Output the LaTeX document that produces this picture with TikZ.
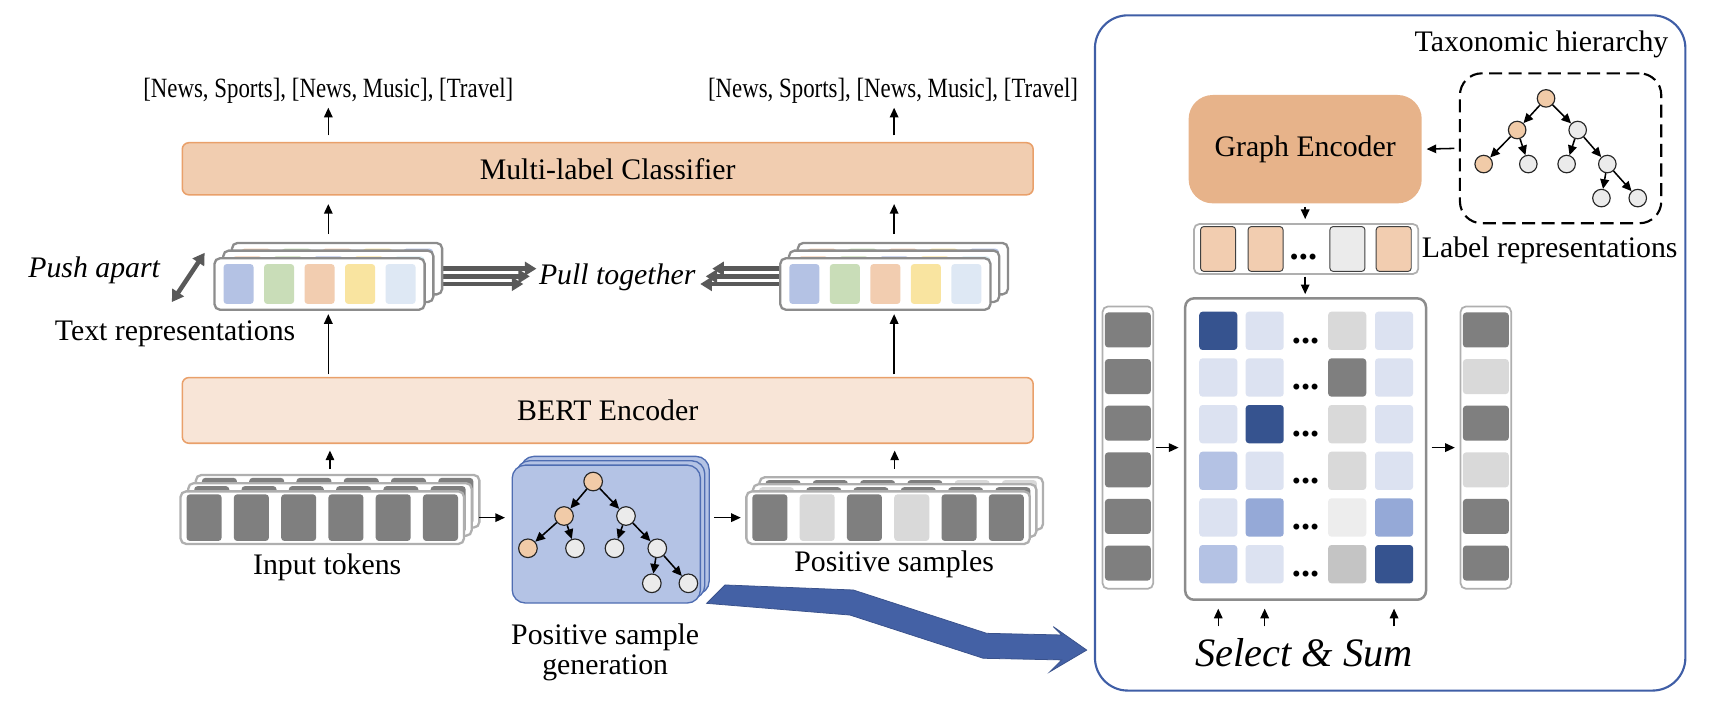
\documentclass[tikz,border=0pt]{standalone}
\usepackage{fontspec}
\setmainfont{Liberation Serif}
\newfontfamily\condfont[FakeStretch=0.82]{Liberation Serif}
\usetikzlibrary{arrows.meta,calc,backgrounds}

\newcommand\pu{0.02cm}
\newcommand\figtxt{\fontsize{15.5}{16}\selectfont}
\newcommand\outtxt{\condfont\fontsize{14.5}{16}\selectfont}
\newcommand\selecttxt{\fontsize{21}{24}\selectfont\itshape}
\newcommand\dotstxt{\fontsize{19}{20}\selectfont\bfseries}

\definecolor{clsfill}{HTML}{F1CDB0}
\definecolor{bertfill}{HTML}{F8E5D7}
\definecolor{orangeb}{HTML}{E9A06A}
\definecolor{gefill}{HTML}{E7B38A}
\definecolor{tpeach}{HTML}{F1CBA8}
\definecolor{tgray}{HTML}{EBEBEB}
\definecolor{psgfill}{HTML}{B4C3E5}
\definecolor{psgdraw}{HTML}{4F6DB2}
\definecolor{repblue}{HTML}{B4C2E4}
\definecolor{repgreen}{HTML}{C9DDB8}
\definecolor{reppeach}{HTML}{F2CDB0}
\definecolor{repyellow}{HTML}{F9E4A0}
\definecolor{replblue}{HTML}{DEE8F4}
\definecolor{repcyan}{HTML}{DCEFF4}
\definecolor{tokdark}{HTML}{7F7F7F}
\definecolor{toklight}{HTML}{D9D9D9}
\definecolor{boxgray}{HTML}{8C8C8C}
\definecolor{lightbox}{HTML}{AFAFAF}
\definecolor{cdark}{HTML}{36538F}
\definecolor{clight}{HTML}{DCE2F1}
\definecolor{cmid}{HTML}{B4C2E4}
\definecolor{cmidb}{HTML}{95A9D7}
\definecolor{cgra}{HTML}{D9D9D9}
\definecolor{cgrb}{HTML}{7F7F7F}
\definecolor{cgrc}{HTML}{EDEDED}
\definecolor{cgrd}{HTML}{C4C4C4}
\definecolor{panelblue}{HTML}{3F5EA6}
\definecolor{bigblue}{HTML}{4461A5}
\definecolor{fatgray}{HTML}{595959}

\tikzset{
  lbl/.style={font=\figtxt, inner sep=0pt},
  arr/.style={-{Triangle[length=5pt,width=4.4pt]}, line width=0.8pt},
  fatarr/.style={-{Triangle[length=6pt,width=7pt]}, line width=2.4pt, draw=fatgray},
  bar/.style={draw=orangeb, line width=0.8pt, rounded corners=6*\pu, minimum width=777.5*\pu, font=\figtxt},
  stackbox/.style={draw=#1, line width=1.2pt, fill=white, rounded corners=5*\pu, inner sep=0pt},
  blk/.style={inner sep=0pt, rounded corners=3*\pu, fill=#1},
  tnode/.style={circle, draw=black!85, line width=0.6pt, minimum size=17*\pu, inner sep=0pt, fill=#1},
  tarr/.style={-{Triangle[length=5pt,width=4.6pt]}, line width=0.8pt},
}

\begin{document}
\begin{tikzpicture}[x=\pu, y=-\pu]
\useasboundingbox (0,0) rectangle (1568,660);

% outputs and the two bars
\node[lbl, font=\outtxt] (outL) at (300,83) {[News, Sports], [News, Music], [Travel]};
\node[lbl, font=\outtxt] (outR) at (816,83) {[News, Sports], [News, Music], [Travel]};
\node[bar, fill=clsfill, minimum height=47.6*\pu] (cls) at (555.3,154.2) {Multi-label Classifier};
\node[bar, fill=bertfill, minimum height=60*\pu] (bert) at (555.3,375) {BERT Encoder};

% text representations
\foreach \s/\cx in {l/292, r/809} {
  \foreach \k/\ca/\cb/\cc/\cd/\ce in {2/reppeach/repgreen/reppeach/repyellow/repblue,
      1/reppeach/repgreen/repblue/repyellow/repcyan, 0/repblue/repgreen/reppeach/repyellow/replblue} {
    \node[stackbox=boxgray, minimum width=192*\pu, minimum height=47*\pu] (t\s\k) at ({\cx+8*\k},{259.5-7*\k}) {};
    \foreach \dx/\col in {-74/\ca, -37/\cb, 0/\cc, 37/\cd, 74/\ce}
      \node[blk=\col, minimum width=27.5*\pu, minimum height=36.5*\pu] at ($(t\s\k)+(\dx,0)$) {};
  }
}
\node[lbl, font=\figtxt\itshape] (push) at (86,247) {Push apart};
\node[lbl, font=\figtxt\itshape] (pull) at (564,253) {Pull together};
\node[lbl] (trep) at (160,305) {Text representations};
\coordinate (pa1) at (157,276);
\coordinate (pa2) at (187,231);
\draw[fatarr, {Triangle[length=6pt,width=7pt]}-{Triangle[length=6pt,width=7pt]}] (pa1) -- (pa2);
\begin{scope}[on background layer]
  \foreach \k/\e in {2/2, 1/8, 0/14}
    \draw[fatarr, shorten >=\e*\pu] (tl\k.center) -- (tl\k.center -| pull.west);
  \foreach \k/\e in {2/15, 1/9, 0/4}
    \draw[fatarr, shorten >=\e*\pu] (tr\k.center) -- (tr\k.center -| pull.east);
\end{scope}

% input tokens
\foreach \k in {2,1,0} {
  \node[stackbox=lightbox, minimum width=259*\pu, minimum height=48*\pu] (in\k) at ({294.5+7*\k},{473-7.5*\k}) {};
  \foreach \dx in {-108,-64.8,-21.6,21.6,64.8,108}
    \node[blk=tokdark, minimum width=32*\pu, minimum height=42.6*\pu] at ($(in\k)+(\dx,0)$) {};
}
\node[lbl] (intok) at (299,518) {Input tokens};

% positive samples
\foreach \k/\ca/\cb/\cc/\cd/\ce/\cf in {2/tokdark/tokdark/tokdark/tokdark/toklight/toklight,
    1/toklight/tokdark/tokdark/tokdark/tokdark/tokdark, 0/tokdark/toklight/tokdark/toklight/tokdark/tokdark} {
  \node[stackbox=lightbox, minimum width=259*\pu, minimum height=48*\pu] (pos\k) at ({811.5+6*\k},{473-6.5*\k}) {};
  \foreach \dx/\col in {-108/\ca, -64.8/\cb, -21.6/\cc, 21.6/\cd, 64.8/\ce, 108/\cf}
    \node[blk=\col, minimum width=32*\pu, minimum height=42.6*\pu] at ($(pos\k)+(\dx,0)$) {};
}
\node[lbl] (possam) at (817,516) {Positive samples};

% positive sample generation
\foreach \k in {2,1,0}
  \node[draw=psgdraw, fill=psgfill, line width=0.7pt, rounded corners=12*\pu,
        minimum width=172*\pu, minimum height=126*\pu] (psg\k) at ({554+4*\k},{488-4*\k}) {};
\foreach \n/\x/\y/\col in {r/542/440/tpeach, a/515.4/471.5/tpeach, b/572/471.5/tgray,
    c/482.4/501/tpeach, d/525.4/501/tgray, e/561.5/501/tgray, f/600.6/501/tgray,
    g/595.6/533/tgray, h/629/533/tgray}
  \node[tnode=\col] (p\n) at (\x,\y) {};
\foreach \s/\t in {r/a, r/b, a/c, a/d, b/e, b/f, f/g, f/h}
  \draw[tarr] (p\s) -- (p\t);
\node[lbl, align=center] (psgl) at (553,596) {Positive sample\\generation};

% arrows on the left side
\draw[arr, shorten <=3.4pt, shorten >=2pt] (cls.north -| outL) -- (outL.south);
\draw[arr, shorten <=3.4pt, shorten >=2pt] (cls.north -| tr1) -- (outR.south -| tr1);
\draw[arr, shorten <=4pt, shorten >=4.4pt] (tl2.north -| tl1) -- (cls.south -| tl1);
\draw[arr, shorten <=4pt, shorten >=4.4pt] (tr2.north -| tr1) -- (cls.south -| tr1);
\draw[arr, shorten <=1.2pt, shorten >=1.7pt] (bert.north -| tl1) -- (tl0.south -| tl1);
\draw[arr, shorten <=1.2pt, shorten >=1.7pt] (bert.north -| tr1) -- (tr0.south -| tr1);
\draw[arr, shorten <=2.5pt, shorten >=3.4pt] (in2.north -| in1) -- (bert.south -| in1);
\draw[arr, shorten <=3.7pt, shorten >=3.4pt] (pos2.north -| pos1) -- (bert.south -| pos1);
\draw[arr, shorten <=7.2pt, shorten >=3.4pt] (in0.east) -- (in0.east -| psg0.west);
\draw[arr, shorten <=2.3pt, shorten >=2.3pt] (psg2.east |- pos0) -- (pos0.west);

% big arrow into the panel
\fill[bigblue, draw=bigblue!85!black, line width=0.4pt] (662.5,534.5) -- (779.7,539.1) -- (901.6,578.7)
  -- (970.1,580.2) -- (962.5,572.6) -- (993,594) -- (959.4,613.8) -- (970.1,603)
  -- (898.5,601.5) -- (776.7,562) -- (645.7,551.3) -- cycle;

% right panel
\draw[panelblue, line width=1.1pt, rounded corners=30*\pu] (1000.5,14) rectangle (1540,631);
\node[lbl] (tax) at (1408.5,41) {Taxonomic hierarchy};
\node[draw, dash pattern=on 6.8pt off 3.4pt, line width=1.1pt, rounded corners=20*\pu,
      minimum width=184*\pu, minimum height=137*\pu] (hier) at (1426,135.5) {};
\foreach \n/\x/\y/\col in {r/1412.7/89.9/tpeach, a/1386.3/118.8/tpeach, b/1441.6/118.8/tgray,
    c/1355.7/149.9/tpeach, d/1396.5/149.9/tgray, e/1431.5/149.9/tgray, f/1468.7/149.9/tgray,
    g/1463.3/181/tgray, h/1496.5/181/tgray}
  \node[tnode=\col, minimum size=16*\pu] (h\n) at (\x,\y) {};
\foreach \s/\t in {r/a, r/b, a/c, a/d, b/e, b/f, f/g, f/h}
  \draw[tarr] (h\s) -- (h\t);
\node[fill=gefill, rounded corners=22*\pu, minimum width=213*\pu, minimum height=99*\pu,
      font=\figtxt] (ge) at (1192.6,136.3) {Graph Encoder};
\draw[arr, shorten <=2.3pt, shorten >=2.3pt] (hier.west) -- (ge.east);

% label representations
\node[stackbox=lightbox, line width=0.9pt, minimum width=205*\pu, minimum height=45.7*\pu] (lrep) at (1193.5,227.5) {};
\foreach \x/\col in {1113/reppeach, 1156.4/reppeach, 1231.2/tgray, 1273.5/reppeach}
  \node[blk=\col, draw=black!75, line width=0.5pt, minimum width=32*\pu, minimum height=41*\pu] at (\x,227.5) {};
\node[lbl, font=\dotstxt] at (1191,235) {...};
\node[lbl] (lrt) at (1416,228.4) {Label representations};
\draw[arr, shorten <=1.7pt, shorten >=2.1pt] (ge.south) -- (lrep.north -| ge.south);
\draw[arr, shorten <=0.9pt, shorten >=2.6pt] (lrep.south -| ge.south) -- ($(lrep.south -| ge.south)+(0,22.2)$) coordinate (mtop);

% matrix
\node[stackbox=boxgray, line width=1.3pt, rounded corners=8*\pu, minimum width=220*\pu, minimum height=275.4*\pu] (mat) at (1193,410.3) {};
\foreach \r/\ca/\cb/\cd/\ce in {1/cdark/clight/cgra/clight, 2/clight/clight/cgrb/clight,
    3/clight/cdark/cgra/clight, 4/cmid/clight/cgra/clight, 5/clight/cmidb/cgrc/cmidb,
    6/cmid/clight/cgrd/cdark} {
  \foreach \c/\x/\col in {a/1113.2/\ca, b/1155.6/\cb, d/1231/\cd, e/1273.8/\ce}
    \node[blk=\col, minimum width=34.8*\pu, minimum height=35*\pu] (m\r\c) at (\x,{302.3+(\r-1)*42.64}) {};
  \node[lbl, font=\dotstxt] at (1193,{311.3+(\r-1)*42.64}) {...};
}

% vectors on both sides
\node[stackbox=lightbox, line width=0.9pt, minimum width=46.3*\pu, minimum height=258*\pu] (vl) at (1030.6,409) {};
\node[stackbox=lightbox, line width=0.9pt, minimum width=46.3*\pu, minimum height=258*\pu] (vr) at (1357.7,409) {};
\foreach \i/\col in {0/tokdark, 1/toklight, 2/tokdark, 3/toklight, 4/tokdark, 5/tokdark} {
  \node[blk=tokdark, minimum width=42*\pu, minimum height=32*\pu] at ($(vl.north)+(0,{22.3+42.6*\i})$) {};
  \node[blk=\col, minimum width=42*\pu, minimum height=32*\pu] at ($(vr.north)+(0,{22.3+42.6*\i})$) {};
}
\draw[arr, shorten <=1.2pt, shorten >=2.8pt] (vl.east) -- (vl.east -| mat.west);
\draw[arr, shorten <=2.3pt, shorten >=2.5pt] (mat.east |- vr.west) -- (vr.west);

% select and sum
\node[lbl, font=\selecttxt] (ss) at (1191.5,596.5) {Select \& Sum};
\foreach \c in {a,b,e}
  \draw[arr, shorten <=6.2pt, shorten >=4pt] (ss.north -| m6\c) -- (mat.south -| m6\c);
\end{tikzpicture}
\end{document}
